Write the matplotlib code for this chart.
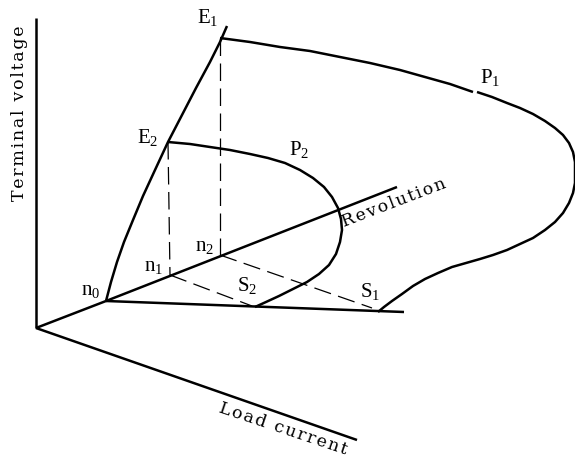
import matplotlib
matplotlib.use("Agg")
import matplotlib.pyplot as plt

plt.rcParams["font.family"] = ["Liberation Serif", "DejaVu Serif"]
plt.rcParams["mathtext.fontset"] = "custom"
plt.rcParams["mathtext.rm"] = "Liberation Serif"

# Sketch coordinates (x to the right, y downward)
origin = (36, 328)
voltage_axis_top = (36, 18)
current_axis_end = (357, 440)

n0 = (106, 301)
n1 = (170, 275)
n2 = (220, 255)
revolution_end = (397, 187)
bottom_end = (404, 312)

E1 = (220, 38)
E2 = (168, 142)
S1 = (378, 312)
S2 = (255, 307)

# no-load voltage rise with speed
e_curve_x = [106, 111, 117, 124, 133, 143, 155, 168, 182, 196, 210, 220, 227]
e_curve_y = [301, 282, 262, 242, 220, 196, 170, 142, 115, 88, 62, 42, 26]

# load characteristic at speed n2 (E1 -> P1 -> S1), split at the P1 mark
p1_upper_x = [220, 250, 280, 310, 340, 370, 400, 425, 450, 473]
p1_upper_y = [38, 42, 47, 51, 57, 63, 70, 77, 84, 92]
p1_lower_x = [477, 492, 507, 520, 533, 545, 555, 563, 569, 573, 575, 575,
              575, 573, 569, 563, 555, 545, 533, 520, 507, 493, 480, 466,
              452, 438, 425, 413, 402, 392, 384, 378]
p1_lower_y = [92, 97, 103, 108, 114, 121, 128, 135, 143, 152, 162, 172,
              183, 193, 203, 213, 222, 230, 238, 244, 250, 255, 259, 263,
              267, 273, 279, 286, 294, 301, 307, 312]

# load characteristic at speed n1 (E2 -> P2 -> S2)
p2_x = [168, 190, 210, 230, 250, 268, 285, 300, 313, 324, 332, 338, 341,
        342, 340, 336, 329, 319, 307, 293, 279, 266, 255]
p2_y = [142, 144, 147, 150, 154, 158, 163, 170, 178, 187, 197, 208, 219,
        230, 242, 254, 265, 274, 282, 289, 296, 302, 307]

fig = plt.figure(figsize=(5.75, 4.59), dpi=100)
ax = fig.add_axes([0, 0, 1, 1])
ax.set_xlim(0, 575)
ax.set_ylim(459, 0)
ax.axis("off")

solid = dict(color="black", lw=1.8, solid_capstyle="butt", solid_joinstyle="round")
dashed = dict(color="black", lw=0.9, linestyle=(0, (14, 6)))


def seg(a, b, **kw):
    ax.plot([a[0], b[0]], [a[1], b[1]], **kw)


# axes of the sketch
seg(origin, voltage_axis_top, **solid)
seg(origin, current_axis_end, **solid)
seg(origin, n0, **solid)
seg(n0, revolution_end, **solid)
seg(n0, bottom_end, **solid)

# characteristic curves
ax.plot(e_curve_x, e_curve_y, **solid)
ax.plot(p1_upper_x, p1_upper_y, **solid)
ax.plot(p1_lower_x, p1_lower_y, **solid)
ax.plot(p2_x, p2_y, **solid)

# projections onto the base plane
seg(E1, (E1[0], n2[1]), **dashed)
seg(E2, (n1[0], n1[1]), **dashed)
seg(n1, (S2[0] - 3, S2[1] - 1), **dashed)
seg(n2, (S1[0] - 6, S1[1] - 4), **dashed)

lab = dict(fontsize=15, ha="center", va="center")
ax.text(208, 17, r"$\mathregular{E_1}$", **lab)
ax.text(148, 137, r"$\mathregular{E_2}$", **lab)
ax.text(490, 78, r"$\mathregular{P_1}$", **lab)
ax.text(299, 150, r"$\mathregular{P_2}$", **lab)
ax.text(370, 291, r"$\mathregular{S_1}$", **lab)
ax.text(247, 285, r"$\mathregular{S_2}$", **lab)
ax.text(91, 291, r"$\mathregular{n_0}$", **lab)
ax.text(154, 266, r"$\mathregular{n_1}$", **lab)
ax.text(205, 247, r"$\mathregular{n_2}$", **lab)

HAIR = "\u200a"


def tracked(s):
    # slightly open letter spacing for the axis names
    return (HAIR + " " + HAIR).join(HAIR.join(w) for w in s.split())


axis_font = dict(family=["DejaVu Serif"], fontsize=12.5)
ax.text(20, 113, tracked("Terminal voltage"), rotation=90,
        ha="center", va="center", **axis_font)
ax.text(396, 207, tracked("Revolution"), rotation=21,
        ha="center", va="baseline", rotation_mode="anchor", **axis_font)
ax.text(282, 433, tracked("Load current"), rotation=-18.5,
        ha="center", va="baseline", rotation_mode="anchor", **axis_font)

fig.savefig("out.png", dpi=100, facecolor="white")
